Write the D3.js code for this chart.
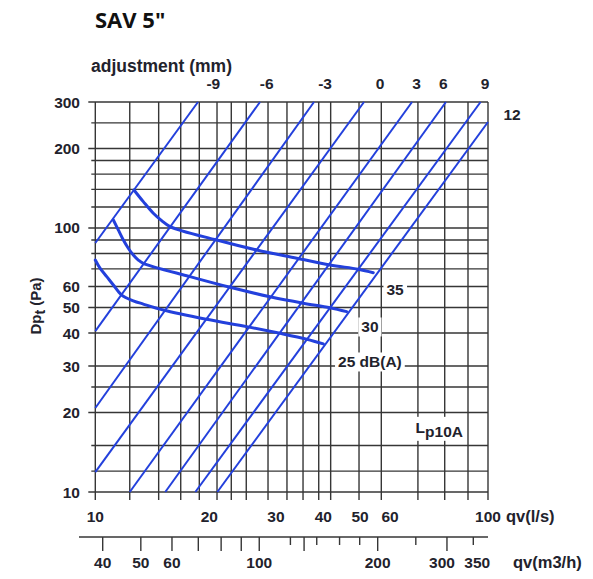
<!DOCTYPE html>
<html><head><meta charset="utf-8">
<script src="https://cdn.jsdelivr.net/npm/d3@7"></script>
<style>body{margin:0;background:#fff} svg{display:block}</style>
</head><body>
<script>
// ---------- data ----------
const xTickLabels = [10, 20, 30, 40, 50, 60, 100];
const xGridValues = [10, 12.33, 14.7, 16.81, 18.82, 20.96, 22.86, 25.04, 28.58, 32.07, 35.36, 38.9, 41.83, 49.7, 56.91, 69.4, 79.8, 90.1, 100];
const yTickLabels = [10, 20, 30, 40, 50, 60, 100, 200, 300];
const yGridValues = [10, 12, 15, 20, 25, 30, 40, 50, 60, 70, 80, 90, 100, 120, 140, 160, 180, 200, 250, 300];
const m3Ticks = [40, 50, 60, 70, 80, 90, 100, 120, 130, 140, 160, 180, 200, 250, 300, 350];
const m3LongTicks = [40, 50, 60, 70, 80, 90, 100, 130, 200, 300];
const m3Labels = [40, 50, 60, 100, 200, 300, 350];

const adjLabels = ["-9", "-6", "-3", "0", "3", "6", "9", "12"];
const adjStart = [[10, 87.7], [10, 40.7], [10, 20.8], [10, 11.9], [12.33, 10], [15.3, 10], [18.37, 10], [21.0, 10]];
const adjEnd   = [[18.67, 300], [27.22, 300], [37.8, 300], [51.23, 300], [67.3, 300], [80.3, 300], [96.2, 300], [100, 252]];
const adjLabelQ = [20.49, 28.36, 40.43, 56.46, 68.9, 79.2, 98.5];

const dB35 = [[12.65,139.3],[13.39,125.8],[14.23,113.7],[14.97,106.6],[15.75,101.2],[20.92,90.0],[26.68,82.5],[34.03,76.8],[41.66,72.4],[49.5,69.8],[54.2,67.7]];
const dB30 = [[11.16,107.2],[11.5,98.3],[11.86,90.0],[12.22,83.8],[12.6,79.0],[12.99,75.6],[13.39,73.5],[17.78,65.4],[22.69,59.6],[28.93,54.9],[35.42,51.9],[41.66,49.9],[46.1,48.2]];
const dB25 = [[10,75.6],[10.29,70.4],[10.72,65.4],[11.16,60.8],[11.74,55.7],[12.6,53.0],[13.39,51.5],[15.12,48.9],[19.69,45.1],[25.11,42.3],[30.74,39.9],[36.16,37.9],[40.0,36.4]];
const dBCurves = [dB25, dB30, dB35];
const dBLabels = ["25 dB(A)", "30", "35"];
const dBLabelPos = [[53.1, 31.1], [53.1, 42.2], [61.6, 58.7]];

// ---------- setup ----------
const W = 593, H = 579;
const ink = "#22222c", grid = "#363636", blue = "#2340dc";
const font = "'Liberation Sans', Arial, sans-serif";
const fs = 15.5;

const x = d3.scaleLog().domain([10, 60, 100]).range([95.3, 390, 488]);
const y = d3.scaleLog().domain([10, 300]).range([492, 102]);
const m3 = d3.scaleLog().domain([40, 350]).range([102.7, 473.3]);

const svg = d3.select("body").append("svg").attr("width", W).attr("height", H)
  .style("font-family", font).style("font-weight", "bold");

// title
svg.append("text").attr("x", 95).attr("y", 28).text('SAV 5"')
  .style("font-family", "'Open Sans', sans-serif").style("font-size", "22px").style("font-weight", "bold").attr("fill", "#111");

// grid
const g = svg.append("g");
g.selectAll(".vg").data(xGridValues).join("line")
  .attr("x1", d => x(d)).attr("x2", d => x(d)).attr("y1", y(300)).attr("y2", y(10) + 8)
  .attr("stroke", grid).attr("stroke-width", 1.4);
g.selectAll(".hg").data(yGridValues).join("line")
  .attr("x1", d => x(10) - (yTickLabels.includes(d) ? 7 : 4)).attr("x2", x(100))
  .attr("y1", d => y(d)).attr("y2", d => y(d))
  .attr("stroke", grid).attr("stroke-width", 1.4);

// y tick labels
svg.selectAll(".yl").data(yTickLabels).join("text")
  .attr("x", 80).attr("y", d => y(d) + 5.5).attr("text-anchor", "end")
  .style("font-size", fs + "px").attr("fill", ink).text(d => d);

// x tick labels
svg.selectAll(".xl").data(xTickLabels).join("text")
  .attr("x", d => x(d)).attr("y", 522).attr("text-anchor", "middle")
  .style("font-size", fs + "px").attr("fill", ink).text(d => d);
svg.append("text").attr("x", 506).attr("y", 522).style("font-size", "16.5px").attr("fill", ink).text("qv(l/s)");

// m3/h axis
svg.append("line").attr("x1", 79).attr("x2", x(100)).attr("y1", 537).attr("y2", 537).attr("stroke", grid).attr("stroke-width", 1.4);
svg.selectAll(".mt").data(m3Ticks).join("line")
  .attr("x1", d => m3(d)).attr("x2", d => m3(d)).attr("y1", 537)
  .attr("y2", d => 537 + (m3LongTicks.includes(d) ? 14 : 8))
  .attr("stroke", grid).attr("stroke-width", 1.4);
const m3Nudge = d => d === 300 ? -5 : d === 350 ? 4 : 0;  // keep crowded labels apart
svg.selectAll(".ml").data(m3Labels).join("text")
  .attr("x", d => m3(d) + m3Nudge(d)).attr("y", 568).attr("text-anchor", "middle")
  .style("font-size", fs + "px").attr("fill", ink).text(d => d);
svg.append("text").attr("x", 513).attr("y", 568).style("font-size", "16.5px").attr("fill", ink).text("qv(m3/h)");

// y axis title
const yt = svg.append("text").attr("transform", "translate(41,306) rotate(-90)").attr("text-anchor", "middle")
  .style("font-size", "15px").attr("fill", ink);
yt.append("tspan").text("Dp");
yt.append("tspan").attr("dy", 4).style("font-size", "14px").text("t");
yt.append("tspan").attr("dy", -4).text(" (Pa)");

// adjustment title & labels
svg.append("text").attr("x", 91).attr("y", 72).style("font-size", "17.5px").attr("fill", ink).text("adjustment (mm)");
svg.selectAll(".al").data(adjLabelQ).join("text")
  .attr("x", d => x(d)).attr("y", 89).attr("text-anchor", "middle")
  .style("font-size", fs + "px").attr("fill", ink).text((d, i) => adjLabels[i]);
svg.append("text").attr("x", x(100) + 24).attr("y", y(270) + 5.5).attr("text-anchor", "middle")
  .style("font-size", fs + "px").attr("fill", ink).text(adjLabels[7]);

// adjustment lines
svg.selectAll(".adj").data(adjStart).join("line")
  .attr("x1", d => x(d[0])).attr("y1", d => y(d[1]))
  .attr("x2", (d, i) => x(adjEnd[i][0])).attr("y2", (d, i) => y(adjEnd[i][1]))
  .attr("stroke", blue).attr("stroke-width", 2);

// dB curves
const line = d3.line().x(d => x(d[0])).y(d => y(d[1])).curve(d3.curveCatmullRom.alpha(0.5));
svg.selectAll(".db").data(dBCurves).join("path")
  .attr("d", line).attr("fill", "none").attr("stroke", blue).attr("stroke-width", 3).attr("stroke-linecap", "round");

// labels with white background
function boxed(txt, cx, cy, size) {
  const t = svg.append("text").attr("x", cx).attr("y", cy + size * 0.36).attr("text-anchor", "middle")
    .style("font-size", size + "px").attr("fill", ink).text(txt);
  const b = t.node().getBBox();
  svg.insert("rect", () => t.node()).attr("x", b.x - 3).attr("y", b.y - 1).attr("width", b.width + 6).attr("height", b.height + 2).attr("fill", "#fff");
  return t;
}
dBLabels.forEach((s, i) => boxed(s, x(dBLabelPos[i][0]), y(dBLabelPos[i][1]), fs));

// Lp10A
const lp = svg.append("text").attr("x", x(77.7) - 24).attr("y", y(16.9) + 1).style("font-size", fs + "px").attr("fill", ink);
lp.append("tspan").text("L");
lp.append("tspan").attr("dy", 4).text("p10A");
const lb = lp.node().getBBox();
svg.insert("rect", () => lp.node()).attr("x", lb.x - 3).attr("y", lb.y - 2).attr("width", lb.width + 6).attr("height", lb.height + 3).attr("fill", "#fff");
</script>
</body></html>
